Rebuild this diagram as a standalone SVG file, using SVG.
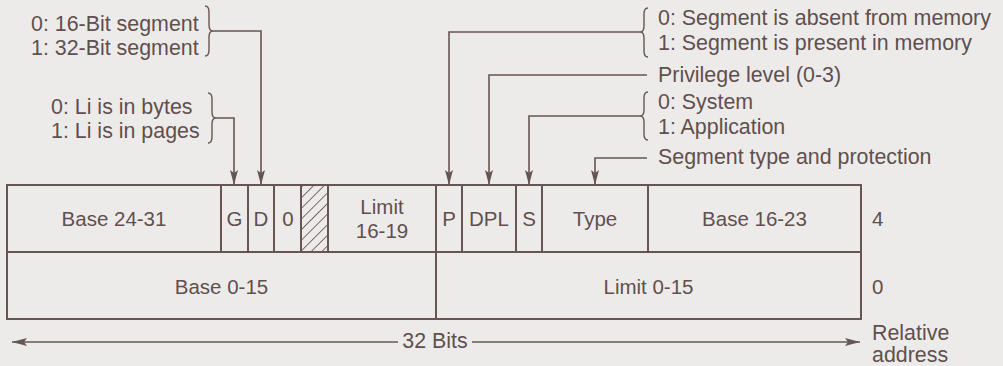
<svg xmlns="http://www.w3.org/2000/svg" width="1003" height="366" viewBox="0 0 1003 366">
  <style>
    .t { font-family: "Liberation Sans", Arial, sans-serif; font-size: 20.5px; fill: #5f504e; }
    .a { font-size: 21.4px; }
    .c { text-anchor: middle; }
    .box { fill: none; stroke: #665653; stroke-width: 2; }
    .ln { fill: none; stroke: #665653; stroke-width: 1.6; }
    .br { fill: none; stroke: #665653; stroke-width: 1.4; }
  </style>
  <defs>
    <marker id="arr" markerUnits="userSpaceOnUse" markerWidth="16" markerHeight="8" refX="15" refY="4" orient="auto-start-reverse">
      <path d="M0,0 L15,4 L0,8 L3,4 z" fill="#665653"/>
    </marker>
    <pattern id="hatch" patternUnits="userSpaceOnUse" width="7.5" height="7.5" patternTransform="rotate(45)">
      <line x1="0" y1="0" x2="0" y2="7.5" stroke="#665653" stroke-width="1.7"/>
    </pattern>
  </defs>
  <rect width="1003" height="366" fill="#edebea"/>

  <g id="descriptor">
    <rect x="301" y="185" width="27" height="67" fill="url(#hatch)"/>
    <rect class="box" x="7" y="185" width="854" height="134"/>
    <line class="box" x1="7" y1="252" x2="861" y2="252"/>
    <line class="box" x1="221" y1="185" x2="221" y2="252"/>
    <line class="box" x1="248" y1="185" x2="248" y2="252"/>
    <line class="box" x1="274" y1="185" x2="274" y2="252"/>
    <line class="box" x1="301" y1="185" x2="301" y2="252"/>
    <line class="box" x1="328" y1="185" x2="328" y2="252"/>
    <line class="box" x1="436" y1="185" x2="436" y2="319"/>
    <line class="box" x1="462" y1="185" x2="462" y2="252"/>
    <line class="box" x1="516" y1="185" x2="516" y2="252"/>
    <line class="box" x1="542" y1="185" x2="542" y2="252"/>
    <line class="box" x1="648" y1="185" x2="648" y2="252"/>
  </g>

  <g id="cells">
    <text class="t c" x="114" y="226">Base 24-31</text>
    <text class="t c" x="234.5" y="226">G</text>
    <text class="t c" x="261" y="226">D</text>
    <text class="t c" x="288" y="226">0</text>
    <text class="t c" x="382" y="214">Limit</text>
    <text class="t c" x="382" y="238">16-19</text>
    <text class="t c" x="449" y="226">P</text>
    <text class="t c" x="489" y="226">DPL</text>
    <text class="t c" x="529" y="226">S</text>
    <text class="t c" x="595" y="226">Type</text>
    <text class="t c" x="754.5" y="226">Base 16-23</text>
    <text class="t c" x="221.5" y="294">Base 0-15</text>
    <text class="t c" x="648.5" y="294">Limit 0-15</text>
  </g>

  <g id="offsets">
    <text class="t" x="872" y="226">4</text>
    <text class="t" x="872" y="294">0</text>
    <text class="t a" x="872" y="340">Relative</text>
    <text class="t a" x="872" y="362">address</text>
  </g>

  <g id="width-label">
    <text class="t a c" x="435" y="348">32 Bits</text>
  </g>

  <g id="note-size">
    <text class="t a" x="31" y="31">0: 16-Bit segment</text>
    <text class="t a" x="31" y="55">1: 32-Bit segment</text>
    <path class="br" d="M205,6 Q209,6 209,12 L209,25 Q209,31 213,31 Q209,31 209,37 L209,50 Q209,56 205,56"/>
  </g>
  <g id="note-gran">
    <text class="t a" x="51" y="114">0: Li is in bytes</text>
    <text class="t a" x="51" y="138">1: Li is in pages</text>
    <path class="br" d="M208,93 Q212,93 212,99 L212,112 Q212,118 216,118 Q212,118 212,124 L212,137 Q212,143 208,143"/>
  </g>
  <g id="note-present">
    <text class="t a" x="658" y="25">0: Segment is absent from memory</text>
    <text class="t a" x="658" y="50">1: Segment is present in memory</text>
    <path class="br" d="M648,8 Q644,8 644,14 L644,26 Q644,32 640,32 Q644,32 644,38 L644,51 Q644,57 648,57"/>
  </g>
  <g id="note-dpl">
    <text class="t a" x="658" y="82">Privilege level (0-3)</text>
  </g>
  <g id="note-sys">
    <text class="t a" x="658" y="109">0: System</text>
    <text class="t a" x="658" y="134">1: Application</text>
    <path class="br" d="M648,92 Q644,92 644,98 L644,110 Q644,116 640,116 Q644,116 644,122 L644,134 Q644,140 648,140"/>
  </g>
  <g id="note-type">
    <text class="t a" x="658" y="164">Segment type and protection</text>
  </g>

  <g id="connectors">
    <polyline class="ln" points="213,31 261,31 261,185" marker-end="url(#arr)"/>
    <polyline class="ln" points="216,118 234,118 234,185" marker-end="url(#arr)"/>
    <polyline class="ln" points="640,32 449,32 449,185" marker-end="url(#arr)"/>
    <polyline class="ln" points="647,75 489,75 489,185" marker-end="url(#arr)"/>
    <polyline class="ln" points="640,116 529,116 529,185" marker-end="url(#arr)"/>
    <polyline class="ln" points="647,158 595,158 595,185" marker-end="url(#arr)"/>
    <line class="ln" x1="12" y1="342" x2="398" y2="342" marker-start="url(#arr)"/>
    <line class="ln" x1="472" y1="342" x2="860" y2="342" marker-end="url(#arr)"/>
  </g>
</svg>
